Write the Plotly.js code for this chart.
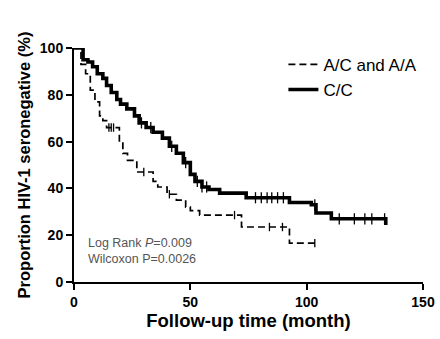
<!DOCTYPE html>
<html>
<head>
<meta charset="utf-8">
<script src="https://cdn.plot.ly/plotly-3.0.1.min.js"></script>
<style>html,body{margin:0;padding:0;background:#fff;}#chart{width:440px;height:339px;}</style>
</head>
<body>
<div id="chart"></div>
<script>
// C/C group (solid)
const ccTime = [0, 3.9, 6, 8, 10, 12.4, 14, 16, 18.4, 20, 22.7, 26, 28, 31, 34, 38, 41, 44, 47, 50, 52, 55, 58, 62.6, 74, 92.6, 102, 104, 110.6, 134];
const ccSurv = [100, 95, 94, 92, 89, 87, 84, 81, 78, 76, 74, 71, 68, 66, 64, 61.5, 58, 55, 51, 46, 43, 40.6, 39.5, 38, 36, 34, 33, 29.5, 27, 24.4];
const ccCensTime = [29, 33, 42, 48, 53, 55, 57, 78, 80.5, 83, 85, 87.5, 90, 103.5, 114, 120.5, 125, 128, 133.5];
// A/C and A/A group (dashed)
const acTime = [0, 3, 5, 7, 9, 11, 12.4, 14, 19.5, 21, 23, 27, 31, 34, 36, 40, 44, 48, 50, 54, 72, 92.6, 104];
const acSurv = [100, 93, 89, 82, 77, 71, 69, 66, 59.4, 55, 52, 47, 47, 43, 40.6, 37.5, 35, 32, 30.5, 28.6, 23.5, 16.6, 16.6];
const acCensTime = [15, 16, 17, 30, 41, 69, 84, 89.6, 103.5];

const legendNames = ["A/C and A/A", "C/C"];
const xTicks = [0, 50, 100, 150];
const yTicks = [0, 20, 40, 60, 80, 100];

function stepValue(times, surv, t) {
  let v = surv[0];
  for (let i = 0; i < times.length; i++) { if (times[i] <= t) v = surv[i]; }
  return v;
}

const FONT = 'Liberation Sans, Arial, sans-serif';

const traces = [
  {x: acTime, y: acSurv, mode: 'lines', line: {shape: 'hv', color: '#000', width: 1.7, dash: '7px,4px'},
   name: legendNames[0], legendgroup: 'a', cliponaxis: false},
  {x: acCensTime, y: acCensTime.map(t => stepValue(acTime, acSurv, t)), mode: 'markers',
   marker: {symbol: 'line-ns', size: 6, line: {color: '#000', width: 1.3}}, showlegend: false, legendgroup: 'a', hoverinfo: 'skip'},
  {x: ccTime, y: ccSurv, mode: 'lines', line: {shape: 'hv', color: '#000', width: 3.6},
   name: legendNames[1], legendgroup: 'b', cliponaxis: false},
  {x: ccCensTime, y: ccCensTime.map(t => stepValue(ccTime, ccSurv, t)), mode: 'markers',
   marker: {symbol: 'line-ns', size: 8, line: {color: '#000', width: 1.3}}, showlegend: false, legendgroup: 'b', hoverinfo: 'skip'}
];

const axisFont = {family: FONT, size: 14, color: '#000', weight: 'bold'};

const layout = {
  width: 440, height: 339,
  margin: {l: 74, r: 17, t: 48, b: 57},
  paper_bgcolor: '#fff', plot_bgcolor: '#fff',
  showlegend: true,
  legend: {x: 0.6, y: 1.005, xanchor: 'left', yanchor: 'top', bgcolor: 'rgba(0,0,0,0)', itemwidth: 30,
           font: {family: FONT, size: 17, color: '#000'}, tracegroupgap: 0},
  xaxis: {range: [0, 150], tickvals: xTicks, showgrid: false, zeroline: false, showline: true, linecolor: '#000', linewidth: 2,
          ticks: 'outside', ticklen: 6, tickwidth: 2, tickcolor: '#000', tickfont: axisFont,
          title: {text: 'Follow-up time (month)', font: {family: FONT, size: 18.5, color: '#000', weight: 'bold'}, standoff: 2}},
  yaxis: {range: [0, 100], tickvals: yTicks, showgrid: false, zeroline: false, showline: true, linecolor: '#000', linewidth: 2,
          ticks: 'outside', ticklen: 6, tickwidth: 2, tickcolor: '#000', tickfont: axisFont,
          title: {text: 'Proportion HIV-1 seronegative (%)', font: {family: FONT, size: 16.5, color: '#000', weight: 'bold'}, standoff: 5}},
  annotations: [
    {xref: 'paper', yref: 'paper', x: 0.035, y: 0.167, xanchor: 'left', yanchor: 'middle', showarrow: false,
     text: 'Log Rank <i>P</i>=0.009', font: {family: FONT, size: 12.5, color: '#555'}},
    {xref: 'paper', yref: 'paper', x: 0.035, y: 0.1, xanchor: 'left', yanchor: 'middle', showarrow: false,
     text: 'Wilcoxon P=0.0026', font: {family: FONT, size: 12.5, color: '#555'}}
  ]
};

Plotly.newPlot('chart', traces, layout, {displayModeBar: false, staticPlot: true});
</script>
</body>
</html>
